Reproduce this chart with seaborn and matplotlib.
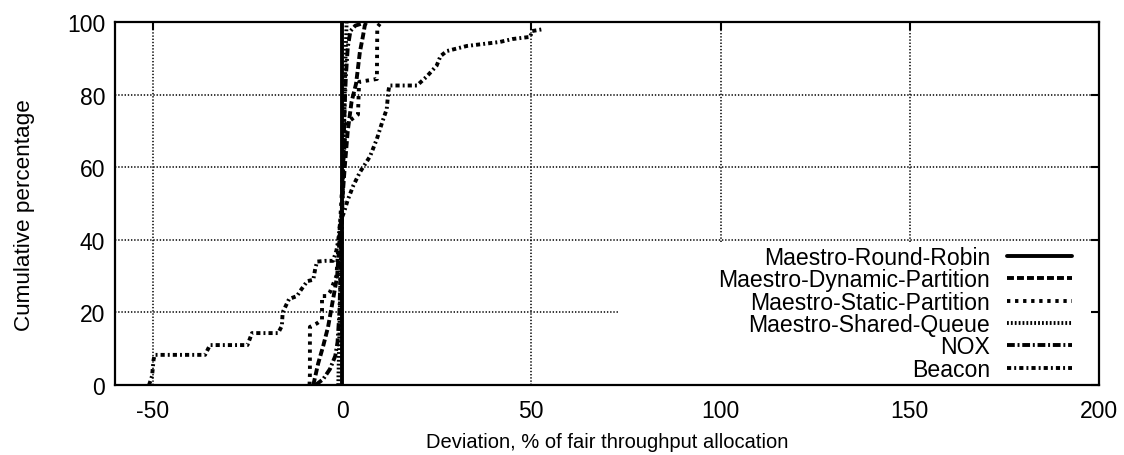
import numpy as np
import pandas as pd
import matplotlib
matplotlib.use("Agg")
import matplotlib.pyplot as plt
from matplotlib.lines import Line2D
import seaborn as sns

# ---------------- data ----------------
SERIES = ["Maestro-Round-Robin", "Maestro-Dynamic-Partition", "Maestro-Static-Partition",
          "Maestro-Shared-Queue", "NOX", "Beacon"]

rr_x = [0.0, 0.0]
rr_y = [0, 100]

dyn_x = [-7.6, -6.3, -5.0, -3.7, -2.7, -1.8, -1.3, -0.8, 0.0, 0.7, 1.5, 2.5, 3.7, 4.7, 5.5, 6.0, 6.4]
dyn_y = [0, 6, 10.7, 16, 21.8, 27, 30, 38, 50, 60, 70, 78, 83, 91.7, 96, 99, 100]

sta_x = [-8.6, -8.5, -8.5, -6.6, -5.3, -5.3, -4.0, -3.2, -1.5, -0.5, 0.3, 1.0, 4.2, 4.5, 9.2, 9.3, 10.0]
sta_y = [0, 3, 16, 17, 18, 24.5, 24.5, 25.6, 30, 45, 60, 72, 74.5, 83.5, 84.3, 98.6, 99.5]

shq_x = [-1.0, -0.8, -0.5, -0.3, 0.0, 0.3, 0.6, 0.9, 1.2]
shq_y = [0, 10, 25, 40, 50, 60, 75, 90, 100]

nox_x = [-7.0, -5.0, -3.2, -1.8, -1.2, -0.7, -0.3, 0.2, 0.5, 0.8, 1.0, 1.5, 2.2, 3.5, 5.0]
nox_y = [0, 1.6, 4.4, 8, 11.8, 20, 35, 55, 70, 80, 85, 93, 97.5, 99, 99.5]

bea_x = [-51.0, -50.2, -49.8, -49.5, -36.2, -34.9, -25.0, -23.8, -16.9, -15.9, -15.7, -14.0, -11.9,
         -11.0, -9.2, -7.6, -7.1, -6.6, -4.5, -2.4, -1.5, -1.0, -0.5, 0.5, 1.5, 3.0, 4.7, 7.4, 9.2,
         10.6, 11.8, 12.2, 12.5, 19.8, 22.4, 25.0, 26.0, 27.7, 33.0, 41.7, 45.0, 49.7, 50.2, 53.0]
bea_y = [0, 2.5, 7, 8.3, 8.3, 11, 11, 14.3, 14.3, 16.3, 20, 23.7, 24.5,
         26, 28.6, 29, 32, 34, 34.2, 34.2, 37, 40, 45, 47.5, 51, 55, 58.6, 63, 67.8,
         72.4, 76, 80.7, 82.5, 82.5, 85, 88, 90.6, 92, 93.4, 94.5, 95.3, 95.9, 97.5, 98]

X_TICKS = [-50, 0, 50, 100, 150, 200]
Y_TICKS = [0, 20, 40, 60, 80, 100]
X_LABEL = "Deviation, % of fair throughput allocation"
Y_LABEL = "Cumulative percentage"

# ---------------- styling ----------------
sns.set_theme(style="white")
plt.rcParams["font.family"] = ["Liberation Sans", "DejaVu Sans"]
plt.rcParams["lines.scale_dashes"] = False
plt.rcParams["axes.unicode_minus"] = False
for key in ("text.color", "axes.labelcolor", "xtick.color", "ytick.color", "axes.edgecolor"):
    plt.rcParams[key] = "black"

DASHES = {
    "Maestro-Round-Robin": "",
    "Maestro-Dynamic-Partition": (5.0, 2.2),
    "Maestro-Static-Partition": (2.4, 3.4),
    "Maestro-Shared-Queue": (1.3, 1.5),
    "NOX": (5.6, 2.0, 1.4, 2.0),
    "Beacon": (3.0, 2.2, 1.4, 2.2),
}
LW = 2.8

frames = []
for name, xs, ys in zip(SERIES, [rr_x, dyn_x, sta_x, shq_x, nox_x, bea_x],
                        [rr_y, dyn_y, sta_y, shq_y, nox_y, bea_y]):
    frames.append(pd.DataFrame({"x": xs, "y": ys, "series": name, "order": np.arange(len(xs))}))
df = pd.concat(frames, ignore_index=True)

fig = plt.figure(figsize=(11.24, 4.56), dpi=100)
ax = fig.add_axes([0.1023, 0.1535, 0.8755, 0.7961])

X_MIN, X_MAX, Y_MIN, Y_MAX = -60, 200, 0, 100
ax.set_xlim(X_MIN, X_MAX)
ax.set_ylim(Y_MIN, Y_MAX)

# gridlines (cleared where the key box sits, like gnuplot)
KEY_X0 = 0.511
KEY_Y1 = 0.395
GRID_KW = dict(color="black", lw=1.1, dashes=(1.0, 1.3), zorder=0.8)
for xv in X_TICKS:
    if xv in (X_MIN, X_MAX):
        continue
    frac = (xv - X_MIN) / (X_MAX - X_MIN)
    ymin = KEY_Y1 if frac > KEY_X0 else 0.0
    ax.axvline(xv, ymin=ymin, ymax=1, **GRID_KW)
for yv in Y_TICKS:
    if yv in (Y_MIN, Y_MAX):
        continue
    frac = (yv - Y_MIN) / (Y_MAX - Y_MIN)
    xmax = KEY_X0 if frac < KEY_Y1 else 1.0
    ax.axhline(yv, xmin=0, xmax=xmax, **GRID_KW)

sns.lineplot(data=df, x="x", y="y", hue="series", style="series", hue_order=SERIES,
             style_order=SERIES, palette={s: "black" for s in SERIES}, dashes=DASHES,
             sort=False, estimator=None, units="series", legend=False, lw=LW, ax=ax)

ax.set_xticks(X_TICKS)
ax.set_yticks(Y_TICKS)
ax.tick_params(direction="in", length=6, width=1.5, top=True, right=True,
               labelsize=16.5, colors="black")
ax.tick_params(axis="y", pad=7)
ax.tick_params(axis="x", pad=10)
for sp in ax.spines.values():
    sp.set_linewidth(1.6)
    sp.set_color("black")
ax.set_xlabel(X_LABEL, fontsize=14.5, labelpad=7, color="black")
ax.set_ylabel(Y_LABEL, fontsize=16.2, color="black")
ax.yaxis.set_label_coords(-0.081, 0.47)

handles = [Line2D([], [], color="black", lw=LW,
                  linestyle="-" if DASHES[s] == "" else (0, DASHES[s])) for s in SERIES]
leg = ax.legend(handles, SERIES, loc="lower right", bbox_to_anchor=(0.973, 0.012),
                frameon=False, fontsize=16.6, markerfirst=False, handlelength=2.85,
                handletextpad=0.72, labelspacing=-0.03, borderpad=0, borderaxespad=0,
                labelcolor="black")
# right-align the label texts as gnuplot does
try:
    for col in leg._legend_box._children[-1]._children:
        col.align = "right"
except Exception:
    pass

fig.savefig("out.png", dpi=100)
